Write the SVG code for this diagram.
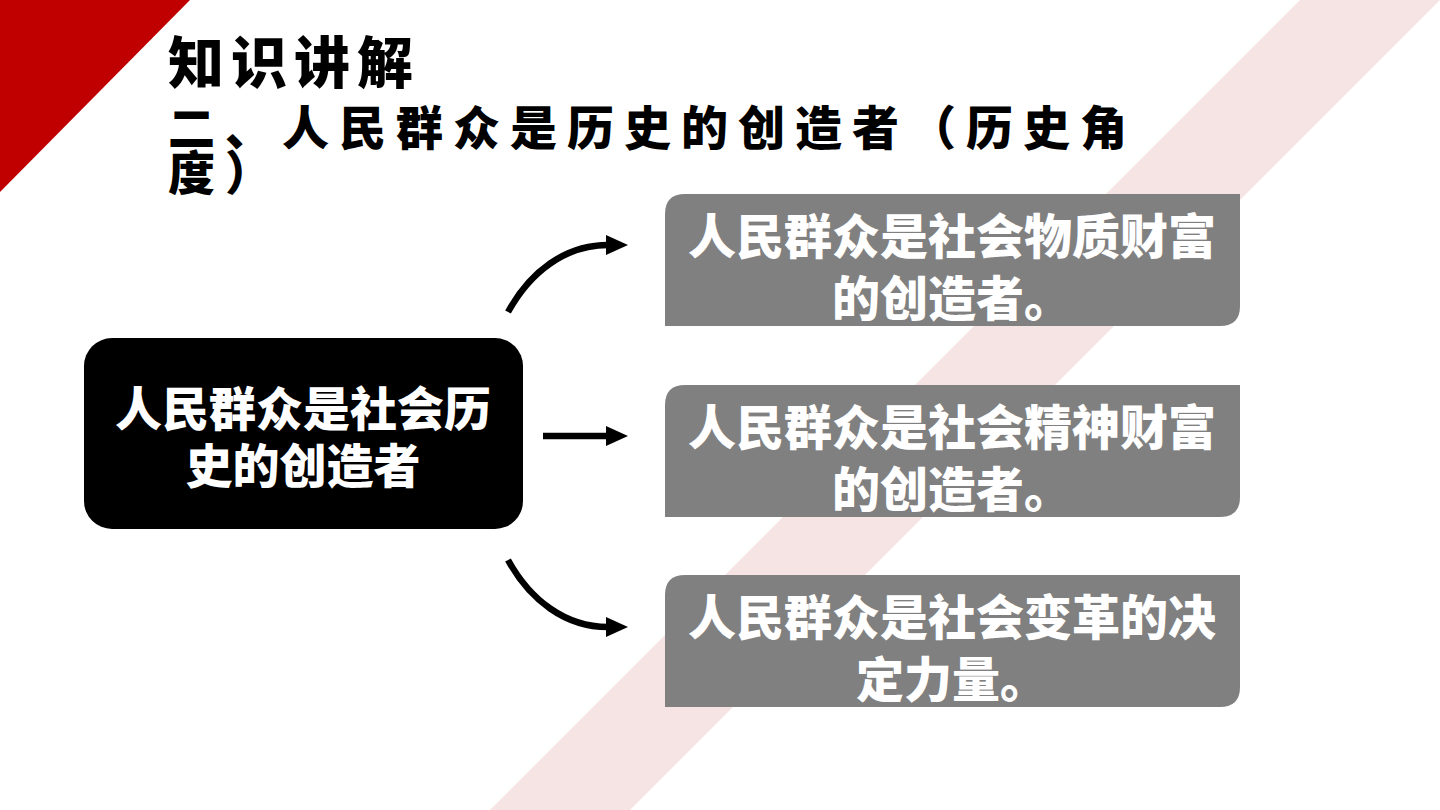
<svg xmlns="http://www.w3.org/2000/svg" width="1440" height="810" viewBox="0 0 1440 810">
  <defs>
    <style>
      .title { font-family: "Noto Sans CJK SC", "Noto Sans", sans-serif; font-weight: 900; fill: #000; }
      .t1 { font-size: 56px; letter-spacing: 7px; }
      .t2 { font-size: 47px; letter-spacing: 10px; }
      .node-text { font-family: "Noto Sans CJK SC", "Noto Sans", sans-serif; font-weight: 900; fill: #fff; text-anchor: middle; }
      .gray { fill: #808080; }
      .conn { fill: none; stroke: #000; stroke-width: 6.5; }
    </style>
    <marker id="arrow" markerUnits="userSpaceOnUse" markerWidth="24" markerHeight="22" refX="2" refY="10" orient="auto">
      <path d="M0,0 L22,10 L0,20 Z" fill="#000"/>
    </marker>
  </defs>

  <rect x="0" y="0" width="1440" height="810" fill="#fff"/>
  <!-- decorative background -->
  <polygon points="0,0 190,0 0,192" fill="#C00000"/>
  <polygon points="1300,0 1440,0 630,810 490,810" fill="#F6E3E4"/>

  <!-- title -->
  <g id="title">
    <text class="title t1" x="168" y="83">知识讲解</text>
    <text class="title t2" x="168" y="145">二、人民群众是历史的创造者（历史角</text>
    <text class="title t2" x="168" y="190">度）</text>
  </g>

  <!-- connectors -->
  <g id="connectors">
    <path class="conn" d="M508,312 C530,272 565,245 608,245" marker-end="url(#arrow)"/>
    <path class="conn" d="M543,436 L608,436" marker-end="url(#arrow)"/>
    <path class="conn" d="M508,560 C530,600 565,627 608,627" marker-end="url(#arrow)"/>
  </g>

  <!-- central node -->
  <g id="node-center">
    <rect x="84" y="338" width="439" height="191" rx="28" ry="28" fill="#000"/>
    <text class="node-text" x="303" y="426" font-size="47">人民群众是社会历</text>
    <text class="node-text" x="303" y="483" font-size="47">史的创造者</text>
  </g>

  <!-- node 1 -->
  <g id="node-material">
    <path class="gray" d="M685,194 L1240,194 L1240,306 Q1240,326 1220,326 L665,326 L665,214 Q665,194 685,194 Z"/>
    <text class="node-text" x="952" y="254" font-size="48">人民群众是社会物质财富</text>
    <text class="node-text" x="952" y="316" font-size="48">的创造者。</text>
  </g>

  <!-- node 2 -->
  <g id="node-spiritual">
    <path class="gray" d="M685,385 L1240,385 L1240,497 Q1240,517 1220,517 L665,517 L665,405 Q665,385 685,385 Z"/>
    <text class="node-text" x="952" y="445" font-size="48">人民群众是社会精神财富</text>
    <text class="node-text" x="952" y="507" font-size="48">的创造者。</text>
  </g>

  <!-- node 3 -->
  <g id="node-change">
    <path class="gray" d="M685,575 L1240,575 L1240,687 Q1240,707 1220,707 L665,707 L665,595 Q665,575 685,575 Z"/>
    <text class="node-text" x="952" y="635" font-size="48">人民群众是社会变革的决</text>
    <text class="node-text" x="952" y="697" font-size="48">定力量。</text>
  </g>
</svg>
